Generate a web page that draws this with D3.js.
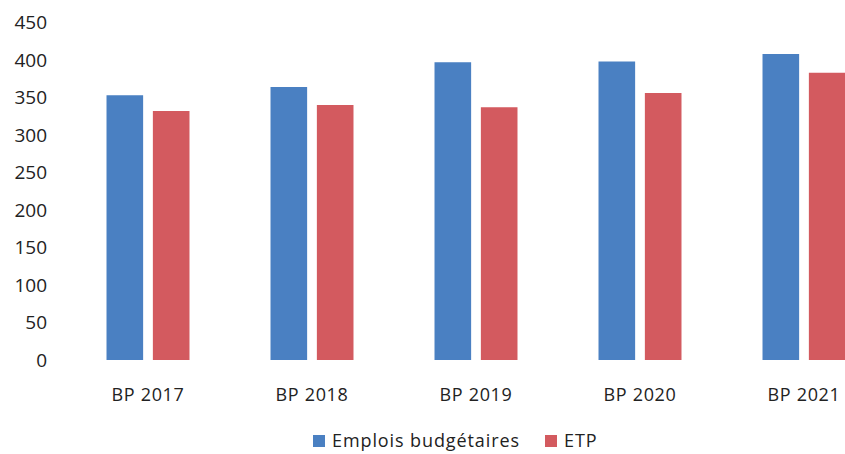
<!DOCTYPE html>
<html>
<head>
<meta charset="utf-8">
<script src="https://cdn.jsdelivr.net/npm/d3@7"></script>
<style>
  html, body { margin: 0; padding: 0; background: #fff; }
  svg { display: block; }
  text { font-family: "Open Sans", "Noto Sans", sans-serif; fill: #222; }
</style>
</head>
<body>
<svg id="chart" width="845" height="454"></svg>
<script>
// Budget headcount by year
const categories = ["BP 2017", "BP 2018", "BP 2019", "BP 2020", "BP 2021"];
const seriesNames = ["Emplois budgétaires", "ETP"];
const emplois = [353, 364, 397, 398, 408];
const etp = [332, 340, 337, 356, 383];
const yTicks = [0, 50, 100, 150, 200, 250, 300, 350, 400, 450];
const colors = ["#4a80c2", "#d35a5f"];

const rows = categories.map((c, i) => ({ cat: c, values: [emplois[i], etp[i]] }));

const svg = d3.select("#chart");

const y = d3.scaleLinear().domain([0, 450]).range([360, 22.5]);
const x0 = d3.scaleBand().domain(categories).range([66, 886])
  .paddingInner(0.494).paddingOuter(0.247);
const x1 = d3.scaleBand().domain(seriesNames).range([0, x0.bandwidth()]).paddingInner(0.21);

// y axis labels
const yAxis = d3.axisLeft(y).tickValues(yTicks).tickSize(0).tickPadding(0);
const gy = svg.append("g").attr("transform", "translate(47,0)").call(yAxis);
gy.select(".domain").remove();
gy.selectAll("text").style("font-size", "19px").attr("fill", "#222")
  .style("font-family", "'Open Sans', 'Noto Sans', sans-serif");

// x axis labels
const xAxis = d3.axisBottom(x0).tickSize(0).tickPadding(0);
const gx = svg.append("g").attr("transform", "translate(0,388)").call(xAxis);
gx.select(".domain").remove();
gx.selectAll("text").style("font-size", "18px").style("letter-spacing", "0.7px")
  .attr("fill", "#222")
  .style("font-family", "'Open Sans', 'Noto Sans', sans-serif");

// bars
const groups = svg.append("g").selectAll("g").data(rows).join("g")
  .attr("transform", d => `translate(${x0(d.cat)},0)`);
groups.selectAll("rect").data(d => d.values.map((v, k) => ({ name: seriesNames[k], v, k })))
  .join("rect")
  .attr("x", d => x1(d.name))
  .attr("width", x1.bandwidth())
  .attr("y", d => y(d.v))
  .attr("height", d => y(0) - y(d.v))
  .attr("fill", d => colors[d.k]);

// legend
const legend = svg.append("g").attr("transform", "translate(313,441)");
const legItems = [
  { name: seriesNames[0], color: colors[0], x: 0 },
  { name: seriesNames[1], color: colors[1], x: 232 }
];
const li = legend.selectAll("g").data(legItems).join("g")
  .attr("transform", d => `translate(${d.x},0)`);
li.append("rect").attr("x", 0).attr("y", -6).attr("width", 12).attr("height", 12)
  .attr("fill", d => d.color);
li.append("text").attr("x", 19).attr("y", 0).attr("dy", "0.35em")
  .style("font-size", "18px").style("letter-spacing", "0.9px").text(d => d.name);
</script>
</body>
</html>
